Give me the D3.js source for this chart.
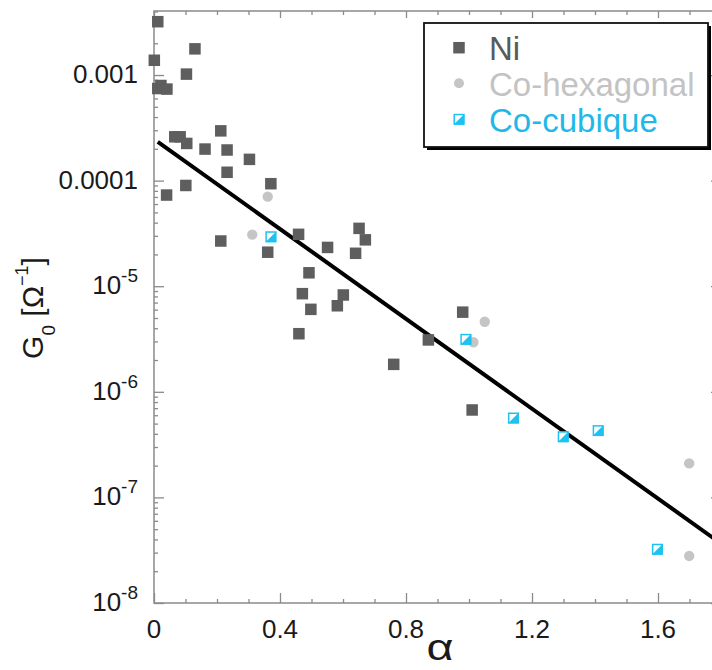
<!DOCTYPE html>
<html>
<head>
<meta charset="utf-8">
<script src="https://cdn.jsdelivr.net/npm/d3@7"></script>
<style>
  html, body { margin: 0; padding: 0; background: #fff; overflow: hidden; }
  svg { display: block; }
  text { font-family: "Liberation Sans", Arial, Helvetica, sans-serif; }
</style>
</head>
<body>
<svg id="chart" width="712" height="670"></svg>
<script>
// Ni samples: exponent alpha and conductance prefactor G0 (ohm^-1)
const niAlpha = [0.012, 0.130, 0.001, 0.103, 0.012, 0.022, 0.041, 0.066, 0.083, 0.104,
                 0.212, 0.162, 0.232, 0.232, 0.101, 0.040, 0.212, 0.303, 0.371, 0.459,
                 0.361, 0.551, 0.651, 0.671, 0.640, 0.492, 0.471, 0.498, 0.601, 0.582,
                 0.460, 0.761, 0.871, 0.980, 1.010];
const niG = [3.2e-3, 1.77e-3, 1.38e-3, 1.02e-3, 7.45e-4, 7.96e-4, 7.36e-4, 2.6e-4, 2.6e-4, 2.25e-4,
             2.96e-4, 1.99e-4, 1.95e-4, 1.2e-4, 9.0e-5, 7.3e-5, 2.68e-5, 1.59e-4, 9.35e-5, 3.1e-5,
             2.1e-5, 2.33e-5, 3.53e-5, 2.75e-5, 2.05e-5, 1.34e-5, 8.5e-6, 6.04e-6, 8.26e-6, 6.53e-6,
             3.55e-6, 1.82e-6, 3.1e-6, 5.68e-6, 6.73e-7];

// Hexagonal cobalt samples
const hexAlpha = [0.361, 0.312, 1.050, 1.014, 1.699, 1.699];
const hexG = [7.05e-5, 3.08e-5, 4.61e-6, 2.95e-6, 2.1e-7, 2.79e-8];

// Cubic cobalt samples
const cubAlpha = [0.371, 0.990, 1.141, 1.299, 1.410, 1.598];
const cubG = [2.94e-5, 3.14e-6, 5.65e-7, 3.76e-7, 4.29e-7, 3.23e-8];

// Exponential fit, end points
const fitAlpha = [0.012, 1.8];
const fitG = [2.33e-4, 3.66e-8];

// Axis ticks
const xMajor = [0, 0.4, 0.8, 1.2, 1.6];
const xMajorLabels = ["0", "0.4", "0.8", "1.2", "1.6"];
const yMajor = [1e-3, 1e-4, 1e-5, 1e-6, 1e-7, 1e-8];
const yMajorLabels = [
  {base: "0.001", exp: ""},
  {base: "0.0001", exp: ""},
  {base: "10", exp: "-5"},
  {base: "10", exp: "-6"},
  {base: "10", exp: "-7"},
  {base: "10", exp: "-8"}
];

const legendItems = ["Ni", "Co-hexagonal", "Co-cubique"];

const colNi = "#5e5e5e";
const colHex = "#c5c5c5";
const colCub = "#1ec2f0";
const colAxis = "#8a8a8a";

const svg = d3.select("#chart");

const pLeft = 154, pRight = 721, pTop = 11, pBottom = 603;
const x = d3.scaleLinear().domain([0, 1.8]).range([pLeft, pRight]);
const y = d3.scaleLog().domain([1e-8, 4.04e-3]).range([pBottom, pTop]);

// minor ticks
const xMinor = d3.range(0, 19).map(i => +(i * 0.1).toFixed(2)).filter(v => !xMajor.includes(v));
const yMinor = [];
for (let e = -8; e <= -3; e++) {
  for (let m = 2; m <= 9; m++) {
    const v = m * Math.pow(10, e);
    if (v <= 4.04e-3) yMinor.push(v);
  }
}

function axisGroup(axis, tx, ty) {
  const g = svg.append("g").attr("transform", `translate(${tx},${ty})`).call(axis);
  g.select(".domain").remove();
  g.selectAll("line").attr("stroke", colAxis).attr("stroke-width", 1.3);
  g.selectAll("text").remove();
  return g;
}

// bottom & top
axisGroup(d3.axisBottom(x).tickValues(xMinor).tickSize(-4).tickFormat(""), 0, pBottom);
axisGroup(d3.axisBottom(x).tickValues(xMajor).tickSize(-10).tickFormat(""), 0, pBottom);
axisGroup(d3.axisTop(x).tickValues(xMinor).tickSize(-4).tickFormat(""), 0, pTop);
axisGroup(d3.axisTop(x).tickValues(xMajor).tickSize(-7).tickFormat(""), 0, pTop);
// left & right
axisGroup(d3.axisLeft(y).tickValues(yMinor).tickSize(-4).tickFormat(""), pLeft, 0);
axisGroup(d3.axisLeft(y).tickValues(yMajor).tickSize(-10).tickFormat(""), pLeft, 0);
axisGroup(d3.axisRight(y).tickValues(yMinor).tickSize(-4).tickFormat(""), pRight, 0);
axisGroup(d3.axisRight(y).tickValues(yMajor).tickSize(-10).tickFormat(""), pRight, 0);

// frame
svg.append("rect")
  .attr("x", pLeft).attr("y", pTop)
  .attr("width", pRight - pLeft).attr("height", pBottom - pTop)
  .attr("fill", "none").attr("stroke", colAxis).attr("stroke-width", 1.5);

// x tick labels
svg.append("g").selectAll("text").data(xMajor).join("text")
  .attr("x", d => x(d)).attr("y", 638)
  .attr("text-anchor", "middle")
  .attr("font-size", 26).attr("fill", "#1a1a1a")
  .text((d, i) => xMajorLabels[i]);

// y tick labels
const yl = svg.append("g").selectAll("text").data(yMajor).join("text")
  .attr("x", 138).attr("y", d => y(d) + 8)
  .attr("text-anchor", "end")
  .attr("font-size", 26).attr("fill", "#1a1a1a");
yl.each(function(d, i) {
  const t = d3.select(this);
  const lab = yMajorLabels[i];
  t.append("tspan").text(lab.base);
  if (lab.exp) {
    t.append("tspan").attr("font-size", 19).attr("dy", -12).text(lab.exp);
  }
});

// axis titles
svg.append("text")
  .attr("transform", "translate(440,660) scale(1.3,1)")
  .attr("text-anchor", "middle")
  .attr("font-family", "'DejaVu Serif', serif")
  .attr("font-size", 36).attr("fill", "#1a1a1a")
  .text("α");

const yt = svg.append("text")
  .attr("transform", "translate(43,308) rotate(-90)")
  .attr("text-anchor", "middle")
  .attr("font-size", 30).attr("fill", "#1a1a1a");
yt.append("tspan").text("G");
yt.append("tspan").attr("font-size", 19).attr("dy", 12).text("0");
yt.append("tspan").attr("dy", -12).text(" [Ω");
yt.append("tspan").attr("font-size", 18).attr("dy", -15).text("−1");
yt.append("tspan").attr("dy", 15).text("]");

// plot clip
svg.append("clipPath").attr("id", "plotClip")
  .append("rect").attr("x", pLeft).attr("y", pTop)
  .attr("width", pRight - pLeft).attr("height", pBottom - pTop);

// fit line
const fitData = fitAlpha.map((a, i) => [a, fitG[i]]);
svg.append("path")
  .attr("clip-path", "url(#plotClip)")
  .attr("d", d3.line().x(d => x(d[0])).y(d => y(d[1]))(fitData))
  .attr("fill", "none").attr("stroke", "#000").attr("stroke-width", 4);

// marker helpers
const sq = 11.5;
function drawSquare(g, cx, cy, s) {
  g.append("rect").attr("x", cx - s / 2).attr("y", cy - s / 2)
    .attr("width", s).attr("height", s).attr("fill", colNi);
}
function drawCircle(g, cx, cy, r) {
  g.append("circle").attr("cx", cx).attr("cy", cy).attr("r", r).attr("fill", colHex);
}
function drawHalf(g, cx, cy, s) {
  const h = s / 2;
  g.append("rect").attr("x", cx - h + 0.75).attr("y", cy - h + 0.75)
    .attr("width", s - 1.5).attr("height", s - 1.5)
    .attr("fill", "#fff").attr("stroke", colCub).attr("stroke-width", 1.5);
  g.append("path")
    .attr("d", `M${cx - h},${cy + h}L${cx + h},${cy - h}L${cx + h},${cy + h}Z`)
    .attr("fill", colCub);
}

const marks = svg.append("g");
niAlpha.forEach((a, i) => drawSquare(marks, x(a), y(niG[i]), sq));
hexAlpha.forEach((a, i) => drawCircle(marks, x(a), y(hexG[i]), 5.2));
cubAlpha.forEach((a, i) => drawHalf(marks, x(a), y(cubG[i]), 11));

// legend
const lg = svg.append("g");
lg.append("rect").attr("x", 427).attr("y", 26).attr("width", 284).attr("height", 124).attr("fill", "#000");
lg.append("rect").attr("x", 424).attr("y", 23).attr("width", 284).attr("height", 124)
  .attr("fill", "#fff").attr("stroke", "#111").attr("stroke-width", 1.8);
const legY = [47.7, 83.3, 119.3];
drawSquare(lg, 459, legY[0], 11.5);
drawCircle(lg, 459, legY[1], 5);
drawHalf(lg, 459, legY[2], 11);
const legCols = ["#5a5a5a", "#c3c3c3", "#1fb8e8"];
lg.selectAll("text.leg").data(legendItems).join("text")
  .attr("class", "leg")
  .attr("x", 489).attr("y", (d, i) => legY[i] + 12.5)
  .attr("font-size", 33)
  .attr("fill", (d, i) => legCols[i])
  .text(d => d);
</script>
</body>
</html>
